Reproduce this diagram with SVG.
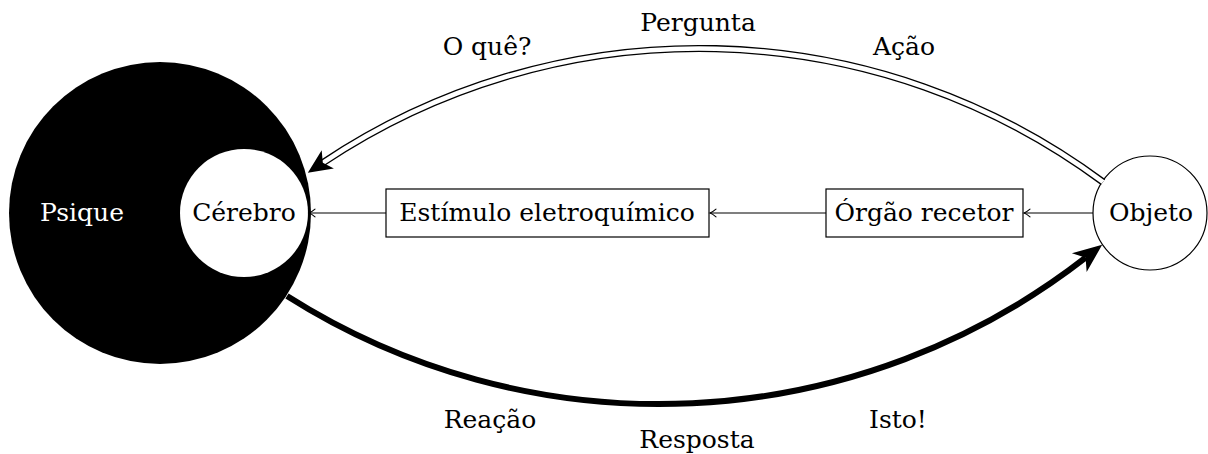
<svg xmlns="http://www.w3.org/2000/svg" width="1208" height="454" viewBox="0 0 1208 454">
<style>
text{font-family:"DejaVu Serif","Liberation Serif",serif;font-size:25px;fill:#000;text-anchor:middle}
.box{fill:#fff;stroke:#000;stroke-width:1.2}
.thin{fill:none;stroke:#000;stroke-width:1.1}
</style>
<defs>
<marker id="small" markerUnits="userSpaceOnUse" markerWidth="14" markerHeight="12" viewBox="-8 -6 10 12" refX="0" refY="0" orient="auto" overflow="visible">
<path d="M-6,-3.8 Q-2.5,-0.8 0,0 Q-2.5,0.8 -6,3.8" fill="none" stroke="#000" stroke-width="1.1" stroke-linecap="round"/>
</marker>
<marker id="stealthBig" markerUnits="userSpaceOnUse" markerWidth="60" markerHeight="40" viewBox="-20 -20 60 40" refX="0" refY="0" orient="auto" overflow="visible">
<path d="M21,0 L-8,-12 L0,0 L-8,12 Z" fill="#000"/>
</marker>
<marker id="stealthTop" markerUnits="userSpaceOnUse" markerWidth="60" markerHeight="40" viewBox="-20 -20 60 40" refX="0" refY="0" orient="auto" overflow="visible">
<path d="M18,0 L-6,-11 L0,0 L-6,11 Z" fill="#000"/>
</marker>
</defs>

<g id="psique">
<circle cx="160" cy="213" r="151" fill="#000"/>
<text x="82" y="221" style="fill:#fff">Psique</text>
</g>
<g id="cerebro">
<circle cx="244" cy="213" r="64" fill="#fff"/>
<text x="244" y="221">Cérebro</text>
</g>
<g id="estimulo">
<rect class="box" x="386" y="189" width="323" height="48"/>
<text x="547" y="221">Estímulo eletroquímico</text>
</g>
<g id="orgao">
<rect class="box" x="826" y="189" width="197" height="48"/>
<text x="924" y="221">Órgão recetor</text>
</g>
<g id="objeto">
<circle cx="1150" cy="213" r="57" fill="#fff" stroke="#000" stroke-width="1.2"/>
<text x="1151" y="221">Objeto</text>
</g>

<g id="connectors">
<line class="thin" x1="1093" y1="213" x2="1024" y2="213" marker-end="url(#small)"/>
<line class="thin" x1="826" y1="213" x2="710" y2="213" marker-end="url(#small)"/>
<line class="thin" x1="386" y1="213" x2="309" y2="213" marker-end="url(#small)"/>
<path d="M1103,182 A677.2,677.2 0 0 0 322.8,162.8" fill="none" stroke="#000" stroke-width="7.2"/>
<path d="M1103,182 A677.2,677.2 0 0 0 322.8,162.8" fill="none" stroke="#fff" stroke-width="4.6"/>
<path d="M1103,182 A677.2,677.2 0 0 0 322.8,162.8" fill="none" stroke="none" marker-end="url(#stealthTop)"/>
<path d="M287,296 A694.6,694.6 0 0 0 1085.6,257.7" fill="none" stroke="#000" stroke-width="6" marker-end="url(#stealthBig)"/>
</g>

<g id="labels">
<text x="487" y="55">O quê?</text>
<text x="698" y="31">Pergunta</text>
<text x="904" y="55">Ação</text>
<text x="490" y="428">Reação</text>
<text x="697" y="448">Resposta</text>
<text x="898" y="428">Isto!</text>
</g>
</svg>
